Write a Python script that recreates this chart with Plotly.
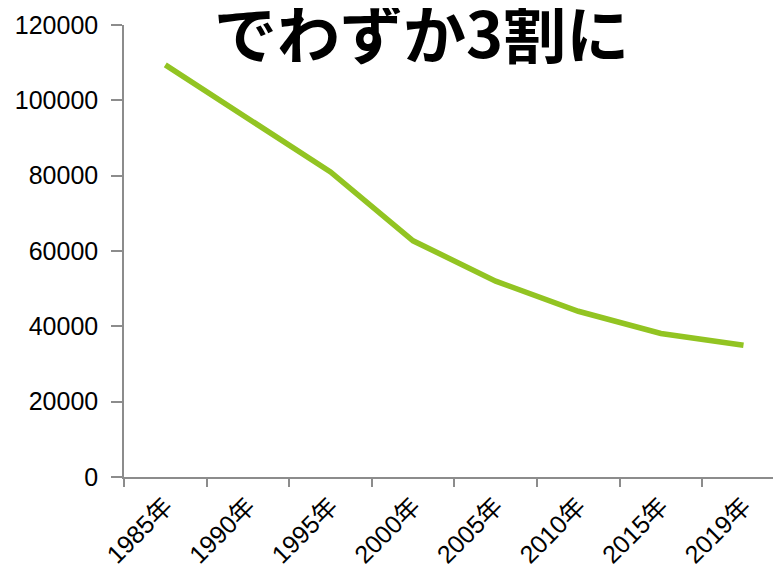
import plotly.graph_objects as go

years = ["1985年", "1990年", "1995年", "2000年", "2005年", "2010年", "2015年", "2019年"]
values = [109400, 95200, 81000, 62700, 52000, 44000, 38100, 35000]
y_ticks = [0, 20000, 40000, 60000, 80000, 100000, 120000]
title_text = "でわずか3割に"

OFF = 8  # page body margin
W, H = 781 - OFF, 571 - OFF
L, T, B = 124 - OFF, 24.5 - OFF, 94
step = 82.6
x_end = 7.5 - (L + 8 * step - W) / step

fig = go.Figure()
fig.add_trace(go.Scatter(
    x=years, y=values, mode="lines",
    line=dict(color="#92C422", width=5.5),
    hoverinfo="skip", showlegend=False,
))

fig.update_layout(
    width=W, height=H,
    margin=dict(l=L, r=0, t=T, b=B, autoexpand=False),
    paper_bgcolor="white", plot_bgcolor="white",
    font=dict(family="Liberation Sans, Arial, sans-serif", color="#000000", size=24),
    xaxis=dict(
        type="category", range=[-0.5, x_end], automargin=False,
        tickson="boundaries", ticks="outside", ticklen=8, tickcolor="#8c8c8c", tickwidth=1.5,
        showline=True, linecolor="#8c8c8c", linewidth=1.5,
        showgrid=False, zeroline=False, tickangle=-45, ticklabelstandoff=3,
        tickfont=dict(size=25, family="Liberation Sans, Noto Sans CJK JP, sans-serif"),
    ),
    yaxis=dict(
        range=[0, 120000], tickvals=y_ticks, ticktext=[str(v) for v in y_ticks],
        automargin=False,
        ticks="outside", ticklen=11, tickcolor="#8c8c8c", tickwidth=1.5,
        showline=True, linecolor="#8c8c8c", linewidth=1.5,
        showgrid=False, zeroline=False, ticklabelstandoff=8,
        tickfont=dict(size=25),
    ),
    annotations=[dict(
        text="<b>" + title_text + "</b>", xref="paper", yref="paper",
        x=(421 - OFF - L) / (W - L), y=1 + (T - (30 - OFF)) / (H - T - B),
        xanchor="center", yanchor="middle",
        showarrow=False,
        font=dict(size=63, family="Noto Sans CJK JP, sans-serif", color="#000000"),
    )],
)

fig.write_html("out.html")
